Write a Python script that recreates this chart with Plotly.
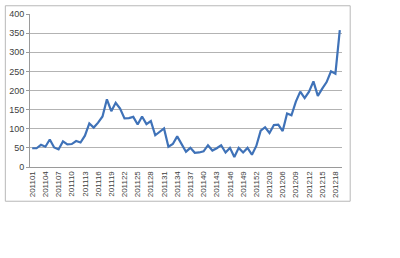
import plotly.graph_objects as go

weeks = [f"2011{w:02d}" for w in range(1, 53)] + [f"2012{w:02d}" for w in range(1, 20)]
values = [49, 49, 58, 53, 72, 51, 46, 67, 59, 60,
          68, 64, 82, 114, 103, 116, 132, 177, 146, 168,
          153, 127, 128, 131, 111, 132, 112, 120, 83, 92,
          101, 53, 60, 80, 60, 40, 50, 37, 38, 41,
          57, 43, 49, 57, 38, 50, 26, 50, 38, 50,
          32, 55, 95, 104, 89, 110, 111, 94, 140, 135,
          171, 197, 180, 197, 224, 186, 205, 222, 250, 244,
          358]
label_weeks = weeks[::3]
y_ticks = [0, 50, 100, 150, 200, 250, 300, 350, 400]

W, H = 400, 258
L, R, T, B = 25.5, 341.7, 9.0, 166.7
pw, ph = R - L, B - T

fig = go.Figure()
fig.add_trace(go.Scatter(x=weeks, y=values, mode="lines",
                         line=dict(color="#3F72B8", width=2.2),
                         showlegend=False, hoverinfo="skip"))

font = dict(family="Liberation Sans, Arial, sans-serif", color="#404040")

fig.update_layout(
    width=W, height=H,
    margin=dict(l=L, r=W - R, t=T, b=H - B, pad=0),
    paper_bgcolor="white", plot_bgcolor="white",
    xaxis=dict(type="category", categoryorder="array", categoryarray=weeks,
               range=[-0.5, len(weeks) - 0.5],
               tickmode="array", tickvals=label_weeks, ticktext=label_weeks,
               tickangle=-90, tickfont=dict(size=8, **font),
               ticks="", showgrid=False, showline=True,
               linecolor="#9a9a9a", linewidth=1, zeroline=False),
    xaxis2=dict(overlaying="x", anchor="y", side="bottom", type="linear",
                range=[-0.5, len(weeks) - 0.5], tickmode="linear",
                tick0=-0.5, dtick=1, ticks="outside", ticklen=3,
                tickcolor="#9a9a9a", showticklabels=False,
                showgrid=False, showline=False, zeroline=False),
    yaxis=dict(range=[0, 400], tickmode="array", tickvals=y_ticks,
               tickfont=dict(size=9, **font),
               ticks="outside", ticklen=3, tickcolor="#9a9a9a",
               showgrid=True, gridcolor="#b3b3b3", gridwidth=1,
               showline=True, linecolor="#9a9a9a", linewidth=1,
               zeroline=False),
    shapes=[dict(type="rect", xref="paper", yref="paper",
                 x0=(0.5 - L) / pw, x1=(350 - L) / pw,
                 y0=(B - 202) / ph, y1=(B - 0.5) / ph,
                 line=dict(color="#b8b8b8", width=1), layer="below")],
)

fig.write_html("out.html")
